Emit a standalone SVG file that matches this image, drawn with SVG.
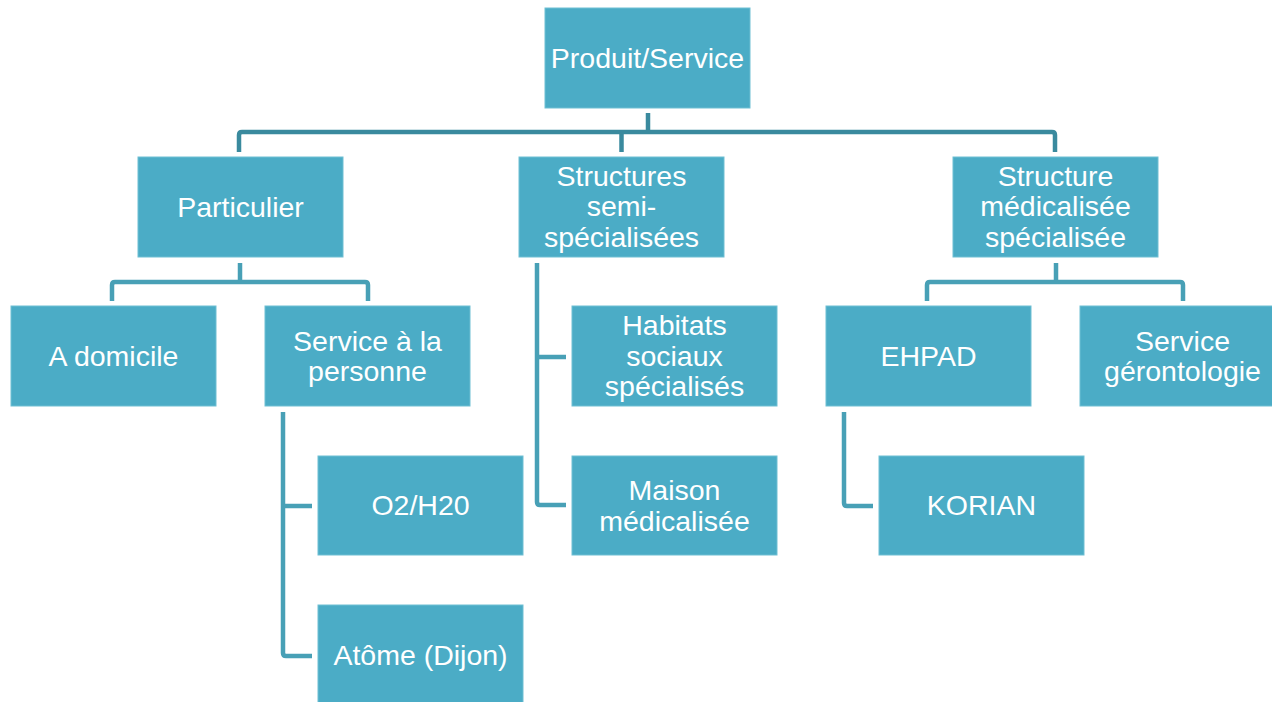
<svg xmlns="http://www.w3.org/2000/svg" width="1272" height="702" viewBox="0 0 1272 702">
<style>
.box{fill:#4BACC6;stroke:#6FBFD3;stroke-width:1}
.t{font-family:"Liberation Sans",Arial,sans-serif;font-size:28.5px;fill:#ffffff;text-anchor:middle}
.c1{fill:none;stroke:#3A8A9E;stroke-width:4.5}
.c2{fill:none;stroke:#48A0B6;stroke-width:4.5}
</style>
<rect width="1272" height="702" fill="#ffffff"/>
<g id="connectors">
<path class="c1" d="M648,113 V132 M239,152 V135 Q239,132 242,132 H1052 Q1055,132 1055,135 V152 M621.5,132 V152"/>
<path class="c2" d="M240,263 V282 M112,301 V285 Q112,282 115,282 H365 Q368,282 368,285 V301"/>
<path class="c2" d="M283,412 V653 Q283,656 286,656 H312 M283,506 H312"/>
<path class="c2" d="M537,263 V502 Q537,505 540,505 H566 M537,357 H566"/>
<path class="c2" d="M844,412 V503 Q844,506 847,506 H873"/>
<path class="c2" d="M1056,263 V282 M927,301 V285 Q927,282 930,282 H1180 Q1183,282 1183,285 V301"/>
</g>
<g id="n-produit"><rect class="box" x="545" y="8" width="205" height="100"/><text class="t" x="647.5" y="67.5">Produit/Service</text></g>
<g id="n-particulier"><rect class="box" x="138" y="157" width="205" height="100"/><text class="t" x="240.5" y="216.5">Particulier</text></g>
<g id="n-semi"><rect class="box" x="519" y="157" width="205" height="100"/><text class="t" x="621.5" y="185.5">Structures</text><text class="t" x="621.5" y="216">semi-</text><text class="t" x="621.5" y="246.5">spécialisées</text></g>
<g id="n-medicalisee"><rect class="box" x="953" y="157" width="205" height="100"/><text class="t" x="1055.5" y="185.5">Structure</text><text class="t" x="1055.5" y="216">médicalisée</text><text class="t" x="1055.5" y="246.5">spécialisée</text></g>
<g id="n-domicile"><rect class="box" x="11" y="306" width="205" height="100"/><text class="t" x="113.5" y="365.5">A domicile</text></g>
<g id="n-service-personne"><rect class="box" x="265" y="306" width="205" height="100"/><text class="t" x="367.5" y="350.5">Service à la</text><text class="t" x="367.5" y="381">personne</text></g>
<g id="n-habitats"><rect class="box" x="572" y="306" width="205" height="100"/><text class="t" x="674.5" y="335">Habitats</text><text class="t" x="674.5" y="365.5">sociaux</text><text class="t" x="674.5" y="396">spécialisés</text></g>
<g id="n-ehpad"><rect class="box" x="826" y="306" width="205" height="100"/><text class="t" x="928.5" y="365.5">EHPAD</text></g>
<g id="n-gerontologie"><rect class="box" x="1080" y="306" width="205" height="100"/><text class="t" x="1182.5" y="350.5">Service</text><text class="t" x="1182.5" y="381">gérontologie</text></g>
<g id="n-o2"><rect class="box" x="318" y="456" width="205" height="99"/><text class="t" x="420.5" y="515">O2/H20</text></g>
<g id="n-maison"><rect class="box" x="572" y="456" width="205" height="99"/><text class="t" x="674.5" y="500">Maison</text><text class="t" x="674.5" y="530.5">médicalisée</text></g>
<g id="n-korian"><rect class="box" x="879" y="456" width="205" height="99"/><text class="t" x="981.5" y="515">KORIAN</text></g>
<g id="n-atome"><rect class="box" x="318" y="605" width="205" height="100"/><text class="t" x="420.5" y="664.5">Atôme (Dijon)</text></g>
</svg>
